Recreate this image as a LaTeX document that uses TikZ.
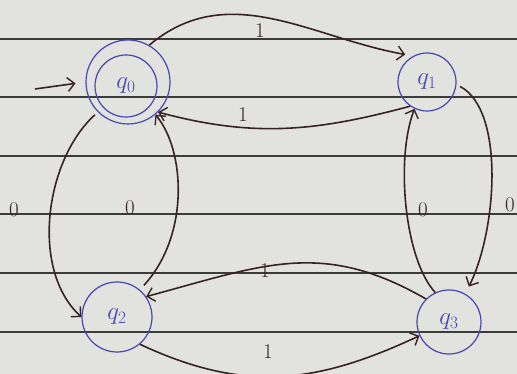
\documentclass[tikz,border=0pt]{standalone}
\usetikzlibrary{arrows.meta}
\definecolor{paper}{RGB}{226,226,222}
\definecolor{rule}{RGB}{60,60,60}
\definecolor{ink}{RGB}{55,35,35}
\definecolor{pen}{RGB}{70,70,180}
\tikzset{
  state/.style={circle, draw=pen, line width=1.2pt, text=pen, font=\fontsize{24}{26}\selectfont, inner sep=0pt},
  edge/.style={draw=ink, line width=1.6pt, -{Straight Barb[length=7pt,width=14pt,line width=1.4pt]}},
  lbl/.style={text=ink, font=\fontsize{21}{23}\selectfont},
  paperline/.style={draw=rule, line width=1.3pt}
}
\begin{document}
\begin{tikzpicture}[x=1pt,y=-1pt]
\useasboundingbox (0,0) rectangle (517,374);
\fill[paper] (0,0) rectangle (517,374);
\foreach \yy in {39,97,156,214,273,332} \draw[paperline] (0,\yy) -- (517,\yy);

\node[state, minimum width=84pt, minimum height=80pt] (q0) at (128,82) {};
\node[state, minimum size=62pt] (q0in) at (126,86) {$q_0$};
\node[state, minimum width=58pt, minimum height=56pt] (q1) at (427,82) {$q_1$};
\node[state, minimum width=70pt, minimum height=60pt] (q2) at (117,317) {$q_2$};
\node[state, minimum width=64pt, minimum height=60pt] (q3) at (449,322) {$q_3$};

\coordinate (s) at (35,89);
\draw[edge, shorten >=10pt] (s) -- (q0.west);

\draw[edge, shorten >=8pt] (q0.60) to[out=40,in=170] (q1.118);
\draw[edge] (q1.235) to[out=195,in=-15] (q0.-45);
\draw[edge, shorten <=4pt] (q0.225) .. controls (45,160) and (30,270) .. (q2.180);
\draw[edge, shorten <=6pt] (q2.50) .. controls (190,235) and (185,150) .. (q0.-50);
\draw[edge, shorten <=4pt, shorten >=8pt] (q1.-5) .. controls (505,110) and (497,230) .. (q3.60);
\draw[edge] (q3.115) .. controls (405,260) and (395,160) .. (q1.-115);
\draw[edge] (q3.135) to[out=150,in=15,looseness=1.1] (q2.35);
\draw[edge] (q2.-50) to[out=-25,in=205,looseness=1.05] (q3.205);

\node[lbl] (l01) at (260,31) {1};
\node[lbl] (l10) at (243,115) {1};
\node[lbl] (l02) at (14,210) {0};
\node[lbl] (l20) at (130,208) {0};
\node[lbl] (l31) at (423,210) {0};
\node[lbl] (l13) at (510,205) {0};
\node[lbl] (l32) at (265,271) {1};
\node[lbl] (l23) at (268,352) {1};
\end{tikzpicture}
\end{document}
